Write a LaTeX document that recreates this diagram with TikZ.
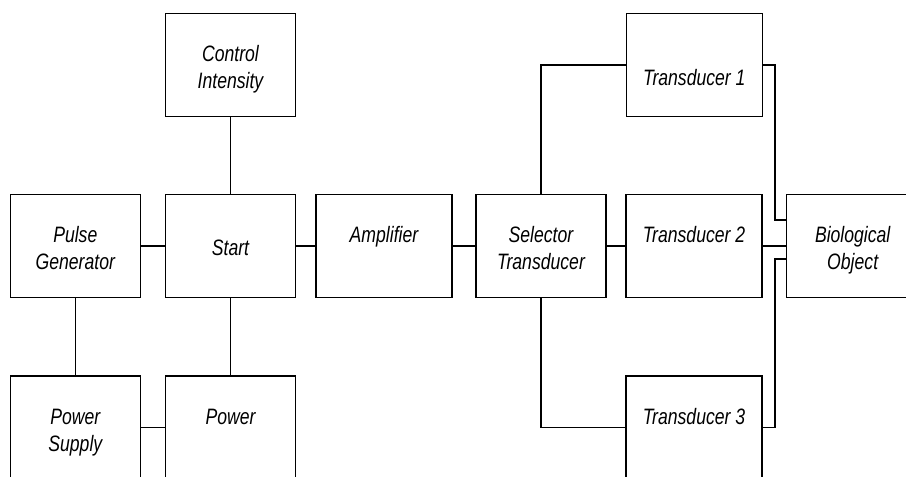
\documentclass[tikz,border=0pt]{standalone}
\usepackage{fontspec}
\setmainfont{Liberation Sans}[FakeStretch=0.79]
\usepackage{tikz}
\usetikzlibrary{positioning}

\tikzset{
    blk/.style={draw, line width=1.5pt, minimum width=130pt, minimum height=103.4pt, inner sep=0pt},
    wideblk/.style={blk, minimum width=136pt},
    lbl/.style={font=\fontsize{22.3pt}{26.5pt}\selectfont\itshape, align=center, anchor=base, inner sep=0pt},
    wire/.style={line width=1.5pt}
}

\begin{document}
\begin{tikzpicture}[
    x=1pt,     % one unit per pixel
    y=-1pt,    % rows counted downwards
]
    \useasboundingbox (0,0) rectangle (906,477);

    % --- Parameters ---
    \def\rowA{65}     % top row
    \def\rowB{246}    % middle row
    \def\rowC{427.7}  % bottom row
    \def\lineA{3.2pt}   % baseline of a one-line text set high
    \def\lineB{-23.3pt} % baseline of the last line of a two-line text

    % --- 1. Boxes ---
    \node[blk] (ctrl) at (230.5,\rowA) {};
    \node[blk] (pulse) at (75.3,\rowB) {};
    \node[blk] (start) at (230.5,\rowB) {};
    \node[wideblk] (amp) at (384,\rowB) {};
    \node[blk] (sel) at (541,\rowB) {};
    \node[wideblk] (tr1) at (694.3,\rowA) {};
    \node[wideblk] (tr2) at (694,\rowB) {};
    \node[wideblk] (tr3) at (694,\rowC) {};
    \node[blk, minimum width=132pt] (bio) at (852.7,\rowB) {};
    \node[blk] (psup) at (75.3,\rowC) {};
    \node[blk] (pwr) at (230.5,\rowC) {};

    % --- 2. Texts ---
    \node[lbl] (ctrl-t) at ([yshift=\lineB]ctrl.center) {Control\\Intensity};
    \node[lbl] (pulse-t) at ([yshift=\lineB]pulse.center) {Pulse\\Generator};
    \node[lbl] (start-t) at ([yshift=-9.8pt]start.center) {Start};
    \node[lbl] (amp-t) at ([yshift=\lineA]amp.center) {Amplifier};
    \node[lbl] (sel-t) at ([yshift=\lineB]sel.center) {Selector\\Transducer};
    \node[lbl] (tr1-t) at ([yshift=-20.3pt]tr1.center) {Transducer 1};
    \node[lbl] (tr2-t) at ([yshift=\lineA]tr2.center) {Transducer 2};
    \node[lbl] (tr3-t) at ([yshift=\lineA]tr3.center) {Transducer 3};
    \node[lbl] (bio-t) at ([yshift=\lineB]bio.center) {Biological\\Object};
    \node[lbl] (psup-t) at ([yshift=\lineB]psup.center) {Power\\Supply};
    \node[lbl] (pwr-t) at ([yshift=\lineA]pwr.center) {Power};

    % --- 3. Connections ---
    \draw[wire] (ctrl) -- (start);
    \draw[wire] (pulse) -- (start);
    \draw[wire] (pulse) -- (psup);
    \draw[wire] (start) -- (pwr);
    \draw[wire] (psup) -- (pwr);
    \draw[wire] (start) -- (amp);
    \draw[wire] (amp) -- (sel);
    \draw[wire] (sel) -- (tr2);
    \draw[wire] (tr2) -- (bio);
    \draw[wire] (sel.north) |- (tr1.west);
    \draw[wire] (sel.south) |- (tr3.west);

    % inputs of the object above and below the middle wire
    \coordinate (bio-in1) at ([yshift=26pt]bio.west);
    \coordinate (bio-in3) at ([yshift=-13pt]bio.west);
    \draw[wire] (tr1.east) -- ++(12,0) |- (bio-in1);
    \draw[wire] (tr3.east) -- ++(12,0) |- (bio-in3);

\end{tikzpicture}
\end{document}
